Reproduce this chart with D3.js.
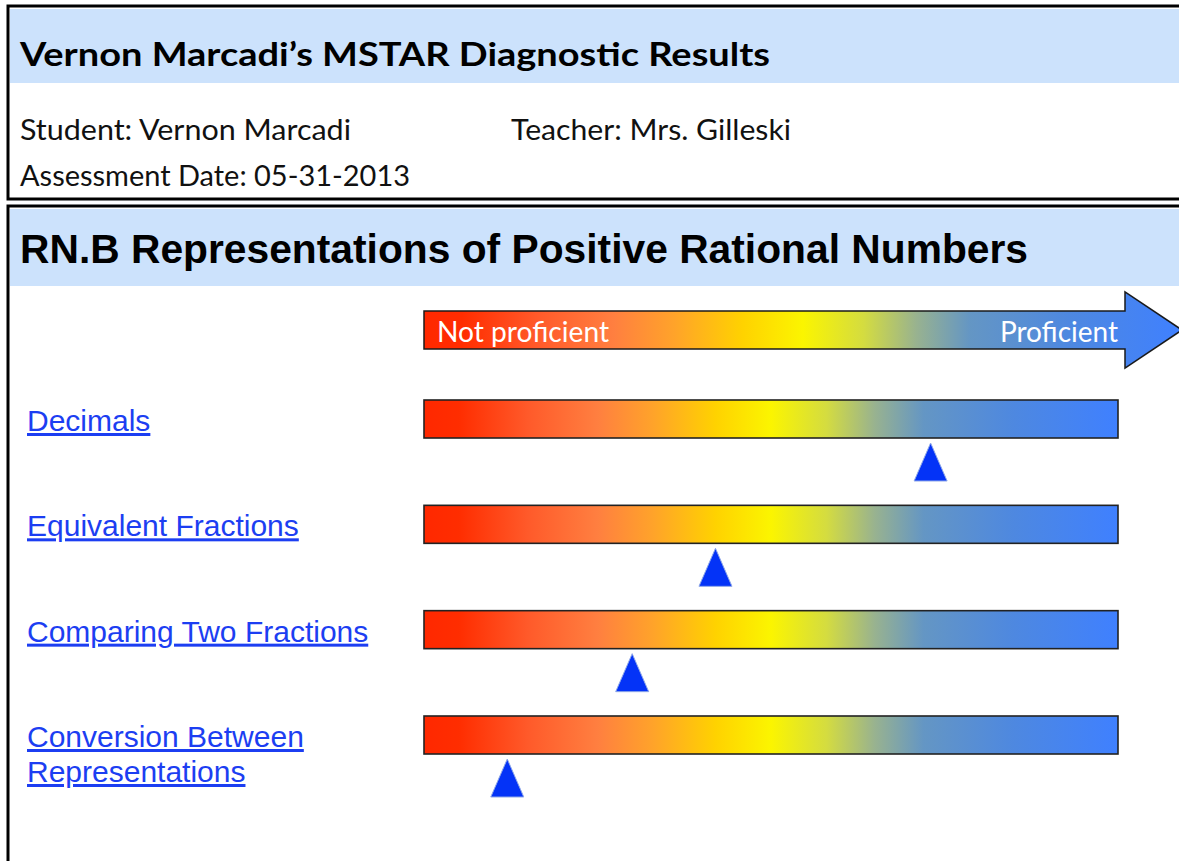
<!DOCTYPE html>
<html>
<head>
<meta charset="utf-8">
<title>MSTAR Diagnostic Results</title>
<script src="https://cdn.jsdelivr.net/npm/d3@7"></script>
<style>
  body { margin: 0; background: #fff; }
  svg { display: block; }
  .calibri { font-family: Lato, "Open Sans", sans-serif; }
  .arial { font-family: "Liberation Sans", Arial, sans-serif; }
  .skill-link { fill: #1c3ef2; text-decoration: underline; }
</style>
</head>
<body>
<div id="report"></div>
<script>
// Report header text
const studentName = 'Vernon Marcadi'
const teacherName = 'Mrs. Gilleski'
const assessmentDate = '05-31-2013'
const strandTitle = 'RN.B Representations of Positive Rational Numbers'

// Skills and where the student sits on each bar (0 = not proficient, 100 = proficient)
const skills = ['Decimals', 'Equivalent Fractions', 'Comparing Two Fractions', 'Conversion Between Representations']
const skillLines = [['Decimals'], ['Equivalent Fractions'], ['Comparing Two Fractions'], ['Conversion Between', 'Representations']]
const scores = [73, 42, 30, 12]
const scaleLabels = ['Not proficient', 'Proficient']

// Colour ramp of the proficiency bars
const rampOffsets = [0, 0.05, 0.15, 0.25, 0.33, 0.42, 0.5, 0.58, 0.65, 0.72, 0.85, 1]
const rampColors = ['#ff2800', '#ff2d00', '#ff5a2a', '#ff7f40', '#ffa32a', '#ffd200', '#fbf500',
  '#d4dc40', '#98b290', '#6496c4', '#4e88e0', '#3f80ff']

const width = 1179
const height = 861

const svg = d3.select('#report')
  .append('svg')
  .attr('width', width)
  .attr('height', height)
  .attr('viewBox', `0 0 ${width} ${height}`)

// Gradient shared by the arrow and every bar
const grad = svg.append('defs')
  .append('linearGradient')
  .attr('id', 'ramp')
  .attr('x1', '0%').attr('x2', '100%')
  .attr('y1', '0%').attr('y2', '0%')

grad.selectAll('stop')
  .data(rampOffsets)
  .join('stop')
  .attr('offset', d => d)
  .attr('stop-color', (d, i) => rampColors[i])

// --- Top box: student info ---
svg.append('rect')
  .attr('x', 8).attr('y', 6)
  .attr('width', 1220).attr('height', 193)
  .attr('fill', '#fff')
  .attr('stroke', '#000')
  .attr('stroke-width', 3)

svg.append('rect')
  .attr('x', 10).attr('y', 9)
  .attr('width', 1200).attr('height', 74)
  .attr('fill', '#cce2fc')

svg.append('text')
  .attr('class', 'calibri')
  .attr('x', 20).attr('y', 66)
  .attr('font-size', 32)
  .attr('font-weight', 700)
  .attr('textLength', 750)
  .attr('lengthAdjust', 'spacingAndGlyphs')
  .text(`${studentName}’s MSTAR Diagnostic Results`)

const infoRows = [
  { text: `Student: ${studentName}`, x: 20, y: 140, len: 331 },
  { text: `Teacher: ${teacherName}`, x: 511, y: 140, len: 280 },
  { text: `Assessment Date: ${assessmentDate}`, x: 20, y: 186, len: 390 }
]

svg.selectAll('.info')
  .data(infoRows)
  .join('text')
  .attr('class', 'info calibri')
  .attr('x', d => d.x)
  .attr('y', d => d.y)
  .attr('font-size', 29)
  .attr('fill', '#111')
  .attr('textLength', d => d.len)
  .attr('lengthAdjust', 'spacingAndGlyphs')
  .text(d => d.text)

// --- Bottom box: strand results ---
svg.append('rect')
  .attr('x', 8).attr('y', 206)
  .attr('width', 1220).attr('height', 720)
  .attr('fill', '#fff')
  .attr('stroke', '#000')
  .attr('stroke-width', 3)

svg.append('rect')
  .attr('x', 10).attr('y', 209)
  .attr('width', 1200).attr('height', 77)
  .attr('fill', '#cce2fc')

svg.append('text')
  .attr('class', 'arial')
  .attr('x', 20).attr('y', 263)
  .attr('font-size', 41)
  .attr('font-weight', 700)
  .attr('textLength', 1008)
  .attr('lengthAdjust', 'spacingAndGlyphs')
  .text(strandTitle)

// Scales
const xScale = d3.scaleLinear().domain([0, 100]).range([424, 1118])
const yScale = d3.scalePoint().domain(skills).range([419, 735])
const barHeight = 38
const triWidth = 33
const triHeight = 38

// Proficiency arrow on top
const arrowTop = 311
const arrowBottom = 349
const headBase = xScale(100) + 7
const tipX = headBase + 57
const arrowMid = (arrowTop + arrowBottom) / 2
const arrowPath = d3.path()
arrowPath.moveTo(xScale(0), arrowTop)
arrowPath.lineTo(headBase, arrowTop)
arrowPath.lineTo(headBase, arrowMid - 38)
arrowPath.lineTo(tipX, arrowMid)
arrowPath.lineTo(headBase, arrowMid + 38)
arrowPath.lineTo(headBase, arrowBottom)
arrowPath.lineTo(xScale(0), arrowBottom)
arrowPath.closePath()

svg.append('path')
  .attr('d', arrowPath.toString())
  .attr('fill', 'url(#ramp)')
  .attr('stroke', '#1a1a1a')
  .attr('stroke-width', 1.5)

svg.append('text')
  .attr('class', 'calibri')
  .attr('x', xScale(0) + 13).attr('y', 342)
  .attr('font-size', 28)
  .attr('fill', '#fff')
  .attr('textLength', 172)
  .attr('lengthAdjust', 'spacingAndGlyphs')
  .text(scaleLabels[0])

svg.append('text')
  .attr('class', 'calibri')
  .attr('x', xScale(100)).attr('y', 342)
  .attr('text-anchor', 'end')
  .attr('font-size', 28)
  .attr('fill', '#fff')
  .text(scaleLabels[1])

// One row per skill
const rows = svg.selectAll('.skill-row')
  .data(skills)
  .join('g')
  .attr('class', 'skill-row')

rows.append('rect')
  .attr('x', xScale(0))
  .attr('y', d => yScale(d) - barHeight / 2)
  .attr('width', xScale(100) - xScale(0))
  .attr('height', barHeight)
  .attr('fill', 'url(#ramp)')
  .attr('stroke', '#222')
  .attr('stroke-width', 1.6)

// Marker triangle under each bar
rows.append('path')
  .attr('d', (d, i) => {
    const cx = xScale(scores[i])
    const top = yScale(d) + barHeight / 2 + 5
    const p = d3.path()
    p.moveTo(cx, top)
    p.lineTo(cx + triWidth / 2, top + triHeight)
    p.lineTo(cx - triWidth / 2, top + triHeight)
    p.closePath()
    return p.toString()
  })
  .attr('fill', '#0433f7')
  .attr('stroke', '#8fa8e8')
  .attr('stroke-width', 1)

// Skill link labels
rows.append('text')
  .attr('class', 'arial skill-link')
  .attr('x', 27)
  .attr('y', d => yScale(d) + 12)
  .attr('font-size', 30)
  .selectAll('tspan')
  .data((d, i) => skillLines[i])
  .join('tspan')
  .attr('x', 27)
  .attr('dy', (d, i) => i === 0 ? 0 : 35)
  .text(d => d)
</script>
</body>
</html>
